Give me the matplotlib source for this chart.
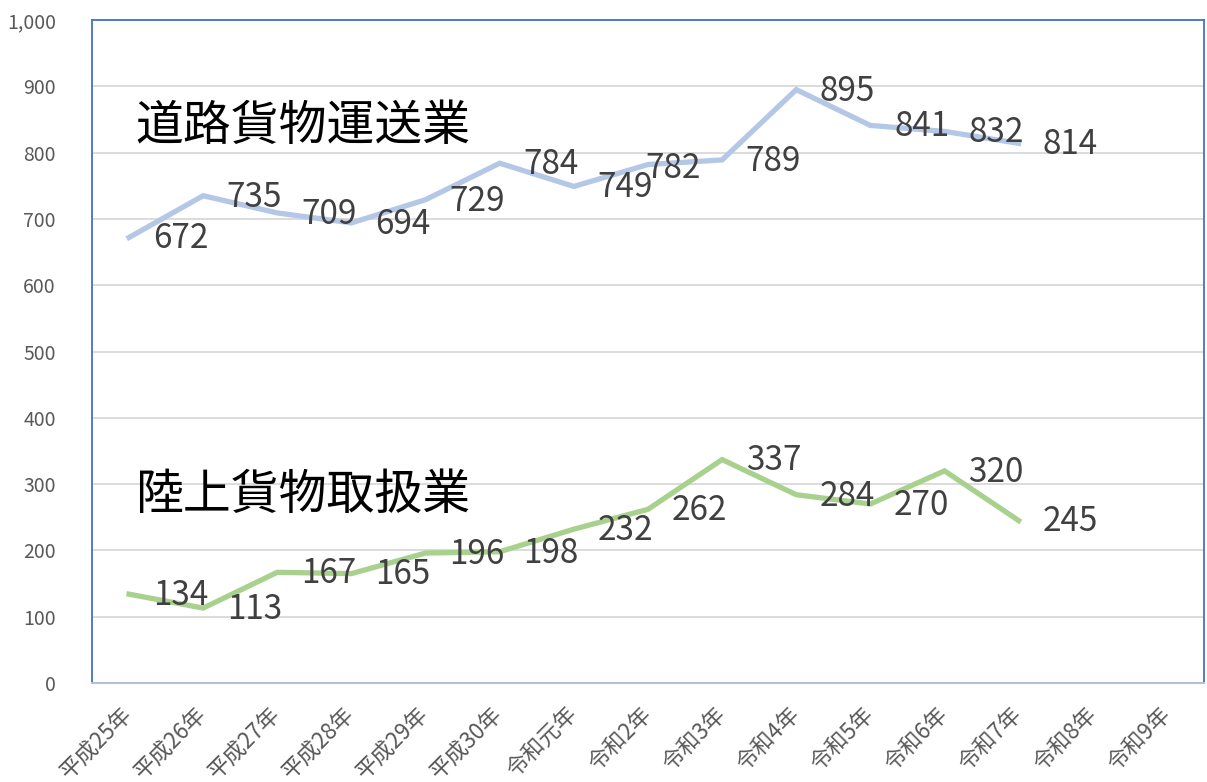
import matplotlib
matplotlib.use("Agg")
import matplotlib.pyplot as plt
from matplotlib.ticker import FuncFormatter

plt.rcParams['font.family'] = ['Noto Sans CJK JP', 'DejaVu Sans']

years = ["平成25年", "平成26年", "平成27年", "平成28年", "平成29年", "平成30年",
         "令和元年", "令和2年", "令和3年", "令和4年", "令和5年", "令和6年",
         "令和7年", "令和8年", "令和9年"]
road = [672, 735, 709, 694, 729, 784, 749, 782, 789, 895, 841, 832, 814]
land = [134, 113, 167, 165, 196, 198, 232, 262, 337, 284, 270, 320, 245]

fig = plt.figure(figsize=(12.07, 7.82), dpi=100)
ax = fig.add_axes([0.0762, 0.1266, 0.9213, 0.8478])

x = list(range(len(years)))
ax.plot(x[:len(road)], road, color="#B4C7E7", lw=3.8, solid_joinstyle="miter", zorder=3)
ax.plot(x[:len(land)], land, color="#A9D18E", lw=3.8, solid_joinstyle="miter", zorder=3)

# labels sit to the right of each point (one was nudged in the original)
for i, v in enumerate(road):
    dx = 18 if i == 7 else 37
    dy = -3 if i == 7 else -1
    ax.annotate(str(v), (i, v), xytext=(dx, dy), textcoords="offset points",
                ha="center", va="center", fontsize=24, color="#404040", zorder=4)
for i, v in enumerate(land):
    ax.annotate(str(v), (i, v), xytext=(37, -1), textcoords="offset points",
                ha="center", va="center", fontsize=24, color="#404040", zorder=4)

ax.text(0.039, 0.84, "道路貨物運送業", transform=ax.transAxes, fontsize=34.5,
        color="black", va="center", ha="left")
ax.text(0.039, 0.284, "陸上貨物取扱業", transform=ax.transAxes, fontsize=34.5,
        color="black", va="center", ha="left")

ax.set_xlim(-0.5, len(years) - 0.5)
ax.set_ylim(0, 1000)
ax.set_yticks(range(0, 1001, 100))
ax.yaxis.set_major_formatter(FuncFormatter(lambda v, p: f"{int(v):,}"))
ax.set_xticks(x)
ax.set_xticklabels(years, rotation=45, ha="right", va="center",
                   rotation_mode="anchor", fontsize=16, color="#595959")
ax.tick_params(axis="y", labelsize=14, labelcolor="#595959", length=0, pad=26)
ax.tick_params(axis="x", length=0, pad=20)

ax.grid(axis="y", color="#D9D9D9", lw=1.3, zorder=0)
ax.set_axisbelow(True)
for s in ["left", "top", "right"]:
    ax.spines[s].set_color("#4472C4")
    ax.spines[s].set_linewidth(1.3)
ax.spines["bottom"].set_color("#B4C0DA")
ax.spines["bottom"].set_linewidth(1.5)

fig.savefig("out.png", dpi=100)
